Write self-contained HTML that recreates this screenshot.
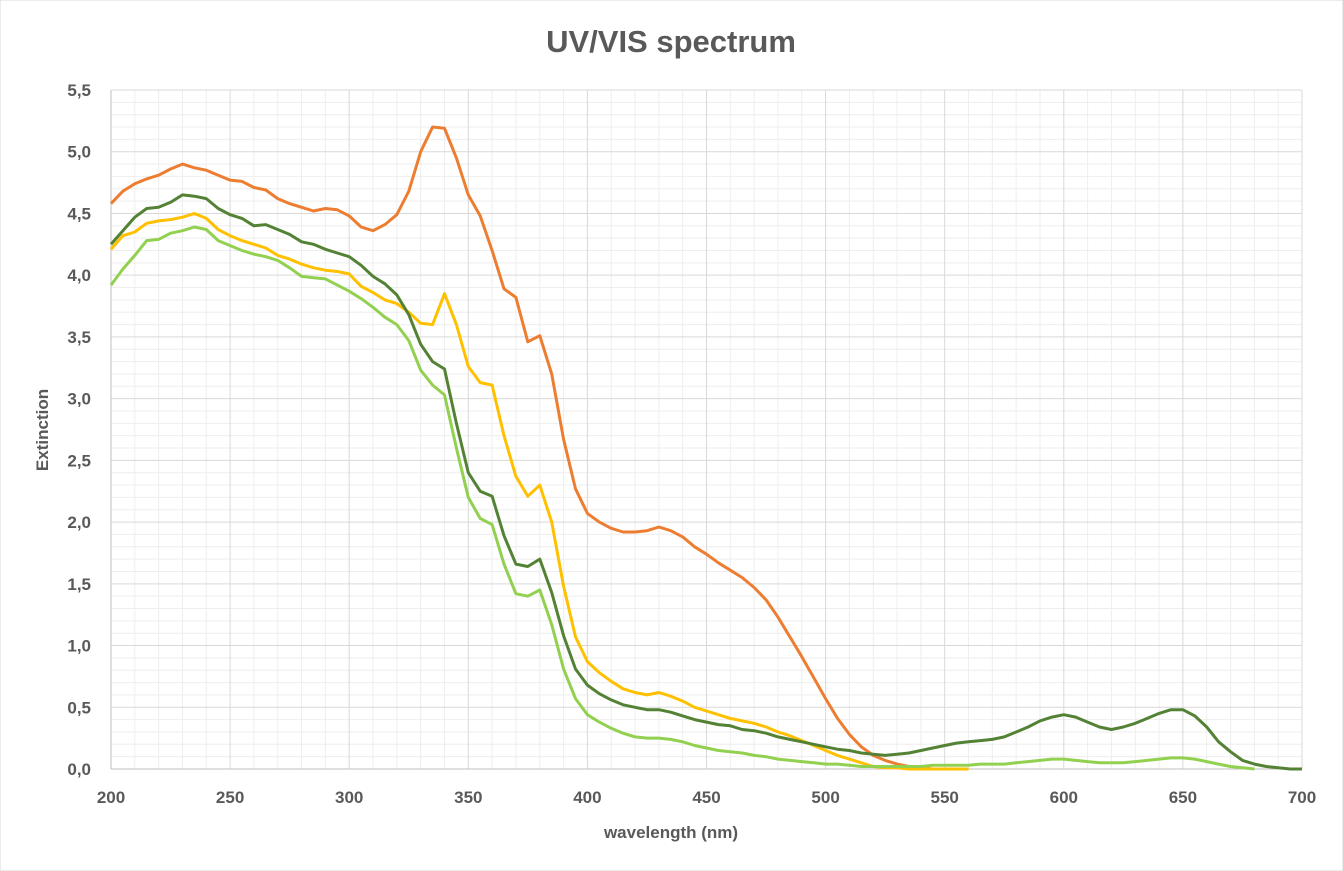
<!DOCTYPE html>
<html><head><meta charset="utf-8"><style>
body{margin:0;background:#fff;}
svg{display:block;font-family:"Liberation Sans",sans-serif;}
</style></head><body>
<svg width="1343" height="871" viewBox="0 0 1343 871">
<rect x="0" y="0" width="1343" height="871" fill="#fff" stroke="#d9d9d9"/>
<text x="671" y="52" text-anchor="middle" font-size="31" font-weight="bold" fill="#595959">UV/VIS spectrum</text>
<g id="grid"></g>
<g id="ticks"></g>
<g id="series"></g>
<text x="671" y="838" text-anchor="middle" font-size="17" font-weight="bold" fill="#595959">wavelength (nm)</text>
<text transform="translate(48,430) rotate(-90)" text-anchor="middle" font-size="17" font-weight="bold" fill="#595959">Extinction</text>
</svg>
<script>
const orange=[4.58,4.68,4.74,4.78,4.81,4.86,4.90,4.87,4.85,4.81,4.77,4.76,4.71,4.69,4.62,4.58,4.55,4.52,4.54,4.53,4.48,4.39,4.36,4.41,4.49,4.68,5.00,5.20,5.19,4.95,4.65,4.48,4.20,3.89,3.82,3.46,3.51,3.20,2.67,2.27,2.07,2.00,1.95,1.92,1.92,1.93,1.96,1.93,1.88,1.80,1.74,1.67,1.61,1.55,1.47,1.37,1.23,1.07,0.91,0.74,0.57,0.41,0.28,0.18,0.11,0.07,0.04,0.02,0.01,0.00,0.00,0,0];
const yellow=[4.21,4.32,4.35,4.42,4.44,4.45,4.47,4.50,4.46,4.37,4.32,4.28,4.25,4.22,4.16,4.13,4.09,4.06,4.04,4.03,4.01,3.91,3.86,3.80,3.77,3.70,3.61,3.60,3.85,3.60,3.26,3.13,3.11,2.70,2.37,2.21,2.30,2.00,1.48,1.07,0.87,0.78,0.71,0.65,0.62,0.60,0.62,0.59,0.55,0.50,0.47,0.44,0.41,0.39,0.37,0.34,0.30,0.27,0.23,0.19,0.15,0.11,0.08,0.05,0.02,0.01,0.01,0,0,0,0,0,0];
const darkGreen=[4.25,4.36,4.47,4.54,4.55,4.59,4.65,4.64,4.62,4.54,4.49,4.46,4.40,4.41,4.37,4.33,4.27,4.25,4.21,4.18,4.15,4.08,3.99,3.93,3.84,3.68,3.44,3.30,3.24,2.80,2.40,2.25,2.21,1.89,1.66,1.64,1.70,1.43,1.08,0.81,0.68,0.61,0.56,0.52,0.50,0.48,0.48,0.46,0.43,0.40,0.38,0.36,0.35,0.32,0.31,0.29,0.26,0.24,0.22,0.20,0.18,0.16,0.15,0.13,0.12,0.11,0.12,0.13,0.15,0.17,0.19,0.21,0.22,0.23,0.24,0.26,0.30,0.34,0.39,0.42,0.44,0.42,0.38,0.34,0.32,0.34,0.37,0.41,0.45,0.48,0.48,0.43,0.34,0.22,0.14,0.07,0.04,0.02,0.01,0.0,0.0];
const lightGreen=[3.92,4.05,4.16,4.28,4.29,4.34,4.36,4.39,4.37,4.28,4.24,4.20,4.17,4.15,4.12,4.06,3.99,3.98,3.97,3.92,3.87,3.81,3.74,3.66,3.60,3.47,3.23,3.11,3.03,2.60,2.20,2.03,1.98,1.66,1.42,1.40,1.45,1.17,0.81,0.57,0.44,0.38,0.33,0.29,0.26,0.25,0.25,0.24,0.22,0.19,0.17,0.15,0.14,0.13,0.11,0.10,0.08,0.07,0.06,0.05,0.04,0.04,0.03,0.02,0.02,0.02,0.02,0.02,0.02,0.03,0.03,0.03,0.03,0.04,0.04,0.04,0.05,0.06,0.07,0.08,0.08,0.07,0.06,0.05,0.05,0.05,0.06,0.07,0.08,0.09,0.09,0.08,0.06,0.04,0.02,0.01,0.0];
const xTicks=[200,250,300,350,400,450,500,550,600,650,700];
const yTicks=["0,0","0,5","1,0","1,5","2,0","2,5","3,0","3,5","4,0","4,5","5,0","5,5"];
const X0=111,X1=1302,Y0=769,Y1=90;
const xs=v=>X0+(v-200)/500*(X1-X0);
const ys=v=>Y0-v/5.5*(Y0-Y1);
const NS="http://www.w3.org/2000/svg";
const grid=document.getElementById('grid'),ticks=document.getElementById('ticks'),ser=document.getElementById('series');
function ln(x1,y1,x2,y2,c){const l=document.createElementNS(NS,'line');l.setAttribute('x1',x1);l.setAttribute('y1',y1);l.setAttribute('x2',x2);l.setAttribute('y2',y2);l.setAttribute('stroke',c);l.setAttribute('stroke-width',1);grid.appendChild(l);return l;}
for(let w=200;w<=700;w+=10){if(w%50){const l=ln(xs(w),Y1,xs(w),Y0,'#eeeeee');

}}
for(let i=0;i<=55;i++){if(i%5){const l=ln(X0,ys(i/10),X1,ys(i/10),'#eeeeee');

}}
xTicks.forEach(w=>{const l=ln(xs(w),Y1,xs(w),Y0,'#d9d9d9');


const t=document.createElementNS(NS,'text');t.setAttribute('x',xs(w));t.setAttribute('y',803);t.setAttribute('text-anchor','middle');t.setAttribute('font-size','17');t.setAttribute('font-weight','bold');t.setAttribute('fill','#595959');t.textContent=w;


ticks.appendChild(t);});
yTicks.forEach((s,i)=>{const v=i*0.5;const l=ln(X0,ys(v),X1,ys(v),'#d9d9d9');


const t=document.createElementNS(NS,'text');t.setAttribute('x',91);t.setAttribute('y',ys(v)+6);t.setAttribute('text-anchor','end');t.setAttribute('font-size','17');t.setAttribute('font-weight','bold');t.setAttribute('fill','#595959');t.textContent=s;


ticks.appendChild(t);});
const ax=ln(X0,Y1,X0,Y0,'#bfbfbf');


const bx=ln(X0,Y0,X1,Y0,'#bfbfbf');


function series(arr,color,name){const p=document.createElementNS(NS,'polyline');
p.setAttribute('points',arr.map((v,i)=>xs(200+5*i).toFixed(1)+','+ys(v).toFixed(1)).join(' '));
p.setAttribute('fill','none');p.setAttribute('stroke',color);p.setAttribute('stroke-width','3');p.setAttribute('stroke-linejoin','round');


ser.appendChild(p);}
series(orange,'#ED7D31','series-orange');
series(yellow,'#FFC000','series-yellow');
series(darkGreen,'#548235','series-dark-green');
series(lightGreen,'#92D050','series-light-green');
</script>
</body></html>
